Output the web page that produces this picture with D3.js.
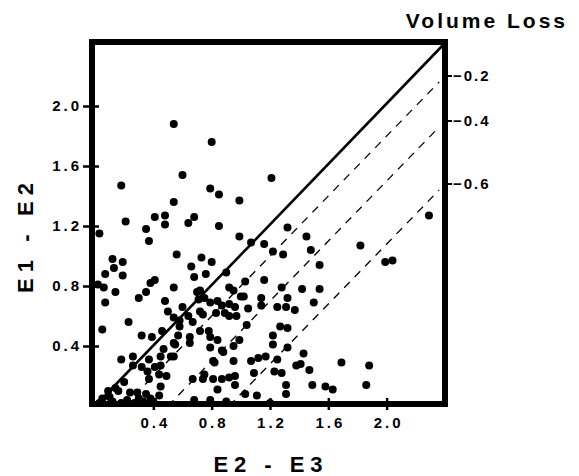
<!DOCTYPE html>
<html lang="en">
<head>
<meta charset="UTF-8">
<title>E1 - E2 vs E2 - E3</title>
<script src="https://cdn.jsdelivr.net/npm/d3@7"></script>
<style>
  body { margin: 0; background: white; }
  svg { display: block; font-family: "Liberation Sans", Arial, sans-serif; font-weight: bold; }
</style>
</head>
<body>
<svg></svg>
<script>
// DATA: [E2 - E3, E1 - E2]
const points = [
  [0.54,1.88],[0.80,1.76],[0.60,1.54],[0.18,1.47],[0.79,1.45],[0.85,1.41],[1.21,1.52],[0.54,1.36],[0.99,1.37],
  [0.21,1.23],[0.41,1.26],[0.48,1.27],[0.48,1.21],[0.64,1.22],[0.68,1.26],[0.35,1.18],[0.37,1.10],[0.85,1.20],
  [0.03,1.15],[0.56,1.01],[0.99,1.13],[1.07,1.09],[0.12,0.98],[0.19,0.96],[0.73,0.99],[0.80,0.96],[0.66,0.93],
  [2.29,1.27],[1.32,1.19],[1.45,1.13],[1.16,1.08],[1.22,1.03],[1.29,1.01],[1.48,1.04],[1.54,0.94],[1.82,1.07],
  [1.99,0.96],[2.04,0.97],
  [0.13,0.92],[0.07,0.88],[0.19,0.87],[0.02,0.81],[0.06,0.79],[0.14,0.76],[0.07,0.69],[0.05,0.51],[0.23,0.56],
  [0.30,0.72],[0.35,0.76],[0.38,0.82],[0.41,0.84],
  [0.76,0.88],[0.90,0.89],[0.54,0.79],[0.68,0.86],[0.72,0.77],[0.48,0.70],[0.75,0.72],[0.79,0.69],[0.84,0.70],
  [0.92,0.68],[0.87,0.67],[0.72,0.63],[0.74,0.61],[0.83,0.62],[0.89,0.62],[0.92,0.60],[0.60,0.66],[0.50,0.63],
  [0.54,0.59],[0.64,0.60],[0.67,0.56],[0.72,0.50],[0.78,0.50],[0.79,0.46],[0.58,0.53],[0.46,0.50],[0.39,0.46],
  [0.84,0.44],[0.65,0.46],[0.65,0.42],[0.79,0.39],[0.54,0.42],[0.47,0.38],[0.54,0.33],[0.45,0.33],[0.87,0.37],
  [0.99,0.44],[0.95,0.30],[0.92,0.79],[1.00,0.73],[0.81,0.30],[0.41,0.26],[0.70,0.76],[0.71,0.71],[0.58,0.57],
  [0.32,0.47],[0.57,0.47],[0.55,0.41],[0.88,0.36],[0.82,0.29],[0.95,0.40],
  [1.03,0.83],[1.16,0.84],[1.28,0.79],[1.42,0.78],[1.54,0.78],[0.95,0.77],[1.02,0.73],[1.14,0.72],[1.14,0.67],
  [0.96,0.66],[1.32,0.72],[1.25,0.66],[1.31,0.66],[1.37,0.64],[1.50,0.69],[0.97,0.60],[1.27,0.53],[1.32,0.52],
  [1.04,0.54],[1.22,0.47],[1.22,0.41],[1.32,0.39],[1.05,0.65],
  [0.18,0.31],[0.26,0.33],[0.37,0.31],[0.52,0.33],[0.45,0.27],[0.26,0.27],[0.32,0.26],[0.36,0.23],[0.44,0.21],
  [0.49,0.20],[0.37,0.18],[0.20,0.16],[0.45,0.13],[0.09,0.10],[0.16,0.10],[0.24,0.09],[0.29,0.09],[0.35,0.08],
  [0.44,0.07],[0.68,0.04],[0.67,0.18],[0.75,0.21],
  [1.07,0.30],[1.12,0.32],[1.17,0.33],[1.25,0.31],[1.38,0.27],[1.09,0.22],[1.23,0.23],[1.28,0.22],[1.31,0.14],
  [1.31,0.08],[0.74,0.18],[0.81,0.18],[0.87,0.18],[0.92,0.19],[0.96,0.14],[0.84,0.11],[1.03,0.08],[1.11,0.07],
  [0.90,0.03],[1.20,0.02],[0.79,0.04],[1.43,0.35],[1.41,0.28],[1.47,0.24],[1.69,0.29],[1.88,0.27],[1.49,0.14],
  [1.58,0.13],[1.63,0.11],[1.86,0.14],[0.96,0.20],
  [0.03,0.02],[0.05,0.05],[0.12,0.03],[0.18,0.02],[0.22,0.04],[0.27,0.02],[0.33,0.03],[0.40,0.03],[0.10,0.06],
  [0.14,0.12],[0.30,0.05],[0.38,0.05]
];

const xTicks = [0.4, 0.8, 1.2, 1.6, 2.0];
const yTicks = [0.4, 0.8, 1.2, 1.6, 2.0];

// Volume loss lines: E1-E2 = (E2-E3) - offset
const lossLabels = ["\u22120.2", "\u22120.4", "\u22120.6"];
const lossOffsets = [0.2, 0.5, 0.92];

// CHART dimensions
const dim = {width: 579, height: 476};
const box = {left: 92, right: 445, top: 42, bottom: 404};

const svg = d3.select("svg")
    .attr("width", dim.width)
    .attr("height", dim.height);

// SCALES
const x = d3.scaleLinear().domain([0, 2.4]).range([95, box.right]);
const y = d3.scaleLinear().domain([0, 2.42]).range([406, 43]);

// REFERENCE LINES
// solid: no volume loss, from corner to corner
svg.append("line")
    .attr("x1", x(0)).attr("y1", y(0))
    .attr("x2", x(2.4)).attr("y2", y(2.42))
    .attr("stroke", "black")
    .attr("stroke-width", 2.6);

// dashed: constant volume loss
svg.selectAll(".loss")
    .data(lossOffsets)
    .join("line")
       .attr("class", "loss")
       .attr("x1", d => x(d)).attr("y1", y(0))
       .attr("x2", x(2.36)).attr("y2", d => y(2.36 - d))
       .attr("stroke", "black")
       .attr("stroke-width", 1.3)
       .attr("stroke-dasharray", "8,7");

// SCATTERPLOT
svg.append("g")
    .selectAll("circle")
    .data(points)
    .join("circle")
       .attr("cx", d => x(d[0]))
       .attr("cy", d => y(d[1]))
       .attr("r", 4)
       .attr("fill", "black");

// FRAME
svg.append("rect")
    .attr("x", box.left).attr("y", box.top)
    .attr("width", box.right - box.left)
    .attr("height", box.bottom - box.top)
    .attr("fill", "none")
    .attr("stroke", "black")
    .attr("stroke-width", 6);

// AXES
const xAxis = svg.append("g")
    .attr("transform", `translate(0, ${box.bottom - 6})`)
    .call(d3.axisBottom(x).tickValues(xTicks).tickSize(12).tickPadding(7)
             .tickFormat(d3.format(".1f")));

const yAxis = svg.append("g")
    .attr("transform", `translate(${box.left + 7}, 0)`)
    .call(d3.axisLeft(y).tickValues(yTicks).tickSize(16).tickPadding(1)
             .tickFormat(d3.format(".1f")));

[xAxis, yAxis].forEach(a => {
    a.select(".domain").remove();
    a.selectAll(".tick line").attr("stroke", "black").attr("stroke-width", 2.5);
    a.selectAll(".tick text")
        .attr("fill", "black")
        .attr("font-family", "'Liberation Sans', Arial, sans-serif")
        .attr("font-weight", "bold")
        .attr("font-size", 15)
        .attr("letter-spacing", "3px");
});
xAxis.selectAll(".tick text").attr("dx", "1.5px");

// Right-hand volume loss ticks, placed where each dashed line meets the frame
const right = svg.append("g");
right.selectAll("line")
    .data(lossOffsets)
    .join("line")
       .attr("x1", box.right + 2).attr("x2", box.right + 7)
       .attr("y1", d => y(2.4 - d)).attr("y2", d => y(2.4 - d))
       .attr("stroke", "black")
       .attr("stroke-width", 2);
right.selectAll("text")
    .data(lossOffsets)
    .join("text")
       .attr("x", box.right + 8)
       .attr("y", d => y(2.4 - d))
       .attr("dy", "0.35em")
       .attr("font-size", 15)
       .attr("letter-spacing", "2px")
       .text((d, i) => lossLabels[i]);

// TITLES
svg.append("text")
    .attr("x", 568).attr("y", 28)
    .attr("text-anchor", "end")
    .attr("font-size", 21)
    .attr("letter-spacing", "3px")
    .text("Volume Loss");

svg.append("text")
    .attr("x", 268).attr("y", 472)
    .attr("text-anchor", "middle")
    .attr("font-size", 22)
    .attr("textLength", 109)
    .attr("lengthAdjust", "spacing")
    .text("E2 - E3");

svg.append("text")
    .attr("transform", "translate(33, 238) rotate(-90)")
    .attr("text-anchor", "middle")
    .attr("font-size", 22)
    .attr("textLength", 110)
    .attr("lengthAdjust", "spacing")
    .text("E1 - E2");
</script>
</body>
</html>
